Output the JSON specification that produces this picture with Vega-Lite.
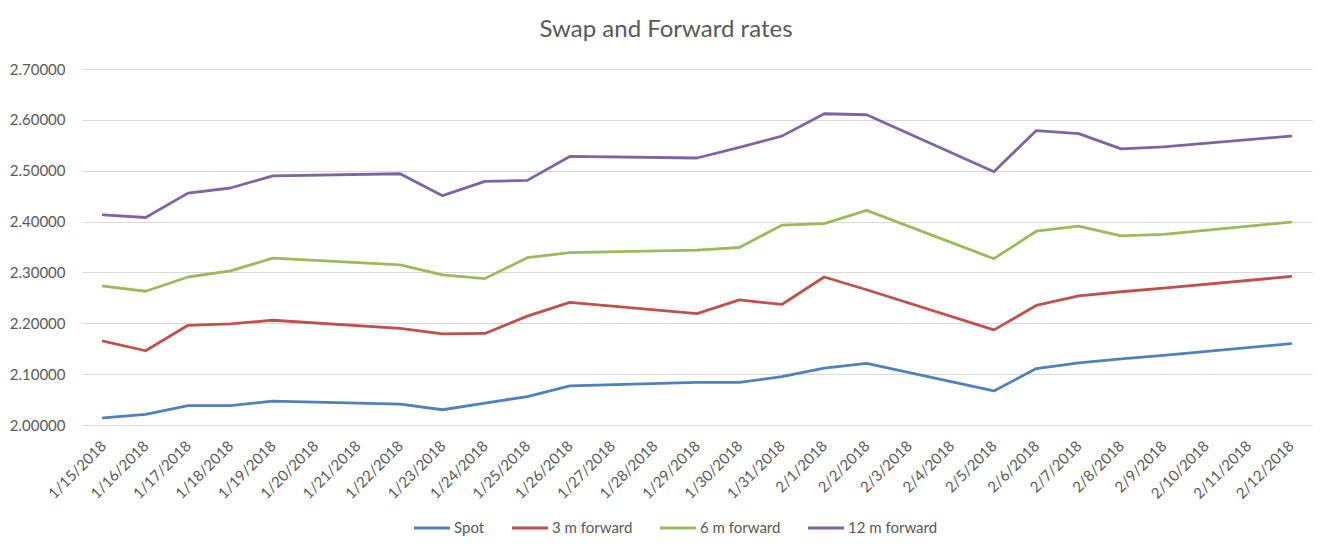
{
  "$schema": "https://vega.github.io/schema/vega-lite/v6.json",
  "width": 1230,
  "height": 356,
  "autosize": {"type": "none"},
  "padding": {"left": 82, "top": 69, "right": 20, "bottom": 130},
  "background": "white",
  "title": {
    "text": "Swap and Forward rates",
    "font": "Lato",
    "fontSize": 24,
    "fontWeight": "normal",
    "color": "#595959",
    "anchor": "middle",
    "frame": "group",
    "dx": -31,
    "offset": 20
  },
  "data": {
    "values": [
      {"date": "2018-01-15", "Spot": 2.014, "3 m forward": 2.165, "6 m forward": 2.273, "12 m forward": 2.413},
      {"date": "2018-01-16", "Spot": 2.021, "3 m forward": 2.146, "6 m forward": 2.263, "12 m forward": 2.408},
      {"date": "2018-01-17", "Spot": 2.038, "3 m forward": 2.196, "6 m forward": 2.291, "12 m forward": 2.456},
      {"date": "2018-01-18", "Spot": 2.038, "3 m forward": 2.199, "6 m forward": 2.303, "12 m forward": 2.466},
      {"date": "2018-01-19", "Spot": 2.047, "3 m forward": 2.206, "6 m forward": 2.328, "12 m forward": 2.490},
      {"date": "2018-01-22", "Spot": 2.041, "3 m forward": 2.190, "6 m forward": 2.315, "12 m forward": 2.494},
      {"date": "2018-01-23", "Spot": 2.030, "3 m forward": 2.179, "6 m forward": 2.295, "12 m forward": 2.451},
      {"date": "2018-01-24", "Spot": 2.043, "3 m forward": 2.180, "6 m forward": 2.288, "12 m forward": 2.479},
      {"date": "2018-01-25", "Spot": 2.056, "3 m forward": 2.214, "6 m forward": 2.329, "12 m forward": 2.481},
      {"date": "2018-01-26", "Spot": 2.077, "3 m forward": 2.241, "6 m forward": 2.339, "12 m forward": 2.528},
      {"date": "2018-01-29", "Spot": 2.084, "3 m forward": 2.219, "6 m forward": 2.344, "12 m forward": 2.525},
      {"date": "2018-01-30", "Spot": 2.084, "3 m forward": 2.246, "6 m forward": 2.349, "12 m forward": 2.546},
      {"date": "2018-01-31", "Spot": 2.095, "3 m forward": 2.237, "6 m forward": 2.393, "12 m forward": 2.568},
      {"date": "2018-02-01", "Spot": 2.112, "3 m forward": 2.291, "6 m forward": 2.396, "12 m forward": 2.612},
      {"date": "2018-02-02", "Spot": 2.121, "3 m forward": 2.266, "6 m forward": 2.422, "12 m forward": 2.610},
      {"date": "2018-02-05", "Spot": 2.067, "3 m forward": 2.187, "6 m forward": 2.327, "12 m forward": 2.498},
      {"date": "2018-02-06", "Spot": 2.111, "3 m forward": 2.235, "6 m forward": 2.381, "12 m forward": 2.579},
      {"date": "2018-02-07", "Spot": 2.122, "3 m forward": 2.254, "6 m forward": 2.391, "12 m forward": 2.573},
      {"date": "2018-02-08", "Spot": 2.130, "3 m forward": 2.262, "6 m forward": 2.372, "12 m forward": 2.543},
      {"date": "2018-02-09", "Spot": 2.137, "3 m forward": 2.269, "6 m forward": 2.375, "12 m forward": 2.547},
      {"date": "2018-02-12", "Spot": 2.160, "3 m forward": 2.292, "6 m forward": 2.399, "12 m forward": 2.568}
    ]
  },
  "transform": [
    {"fold": ["Spot", "3 m forward", "6 m forward", "12 m forward"], "as": ["series", "rate"]}
  ],
  "mark": {"type": "line", "strokeWidth": 2.8, "strokeJoin": "round", "strokeCap": "round"},
  "encoding": {
    "x": {
      "field": "date",
      "type": "ordinal",
      "scale": {
        "type": "point",
        "padding": 0.5,
        "domain": ["2018-01-15","2018-01-16","2018-01-17","2018-01-18","2018-01-19","2018-01-20","2018-01-21","2018-01-22","2018-01-23","2018-01-24","2018-01-25","2018-01-26","2018-01-27","2018-01-28","2018-01-29","2018-01-30","2018-01-31","2018-02-01","2018-02-02","2018-02-03","2018-02-04","2018-02-05","2018-02-06","2018-02-07","2018-02-08","2018-02-09","2018-02-10","2018-02-11","2018-02-12"]
      },
      "axis": {
        "title": null,
        "labelExpr": "utcFormat(toDate(datum.value), '%-m/%-d/%Y')",
        "labelAngle": -45,
        "labelAlign": "right",
        "labelBaseline": "middle",
        "labelFont": "Lato",
        "labelFontSize": 15,
        "labelColor": "#595959",
        "labelPadding": 18,
        "ticks": false,
        "domain": true,
        "domainColor": "#D9D9D9",
        "grid": false,
        "labelOverlap": false
      }
    },
    "y": {
      "field": "rate",
      "type": "quantitative",
      "scale": {"domain": [2.0, 2.7], "nice": false, "zero": false},
      "axis": {
        "title": null,
        "values": [2.0, 2.1, 2.2, 2.3, 2.4, 2.5, 2.6, 2.7],
        "format": ".5f",
        "labelFont": "Lato",
        "labelFontSize": 15,
        "labelColor": "#595959",
        "labelPadding": 17,
        "ticks": false,
        "domain": false,
        "grid": true,
        "gridColor": "#D9D9D9",
        "gridWidth": 1
      }
    },
    "color": {
      "field": "series",
      "type": "nominal",
      "scale": {
        "domain": ["Spot", "3 m forward", "6 m forward", "12 m forward"],
        "range": ["#4F81BD", "#C0504D", "#9BBB59", "#8064A2"]
      },
      "legend": {
        "title": null,
        "orient": "none",
        "direction": "horizontal",
        "legendX": 330,
        "legendY": 439,
        "symbolType": "stroke",
        "symbolSize": 1300,
        "symbolStrokeWidth": 3,
        "labelFont": "Lato",
        "labelFontSize": 15,
        "labelColor": "#595959",
        "labelOffset": 2,
        "columnPadding": 20
      }
    }
  },
  "config": {"view": {"stroke": null}}
}
